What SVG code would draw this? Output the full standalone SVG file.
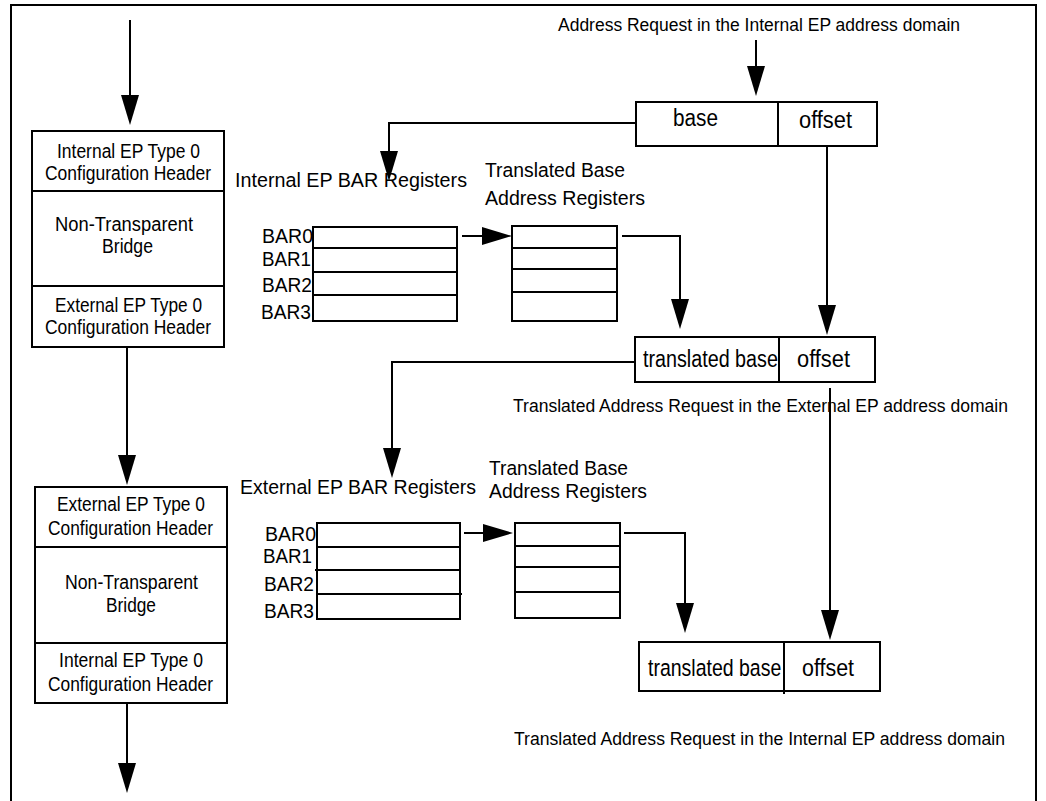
<svg xmlns="http://www.w3.org/2000/svg" width="1046" height="801" viewBox="0 0 1046 801">
<style>
  .ln{fill:none;stroke:#000;stroke-width:2}
  .bx{fill:#fff;stroke:#000;stroke-width:2}
  text{font-family:"Liberation Sans",Arial,sans-serif;fill:#000}
  .bt{font-size:19.5px;text-anchor:middle}
  .lb{font-size:20.5px}
  .bar{font-size:20.5px;text-anchor:end}
  .cap{font-size:17.5px}
  .fld{font-size:23.5px}
  .con{fill:none;stroke:#000;stroke-width:2;marker-end:url(#ah)}
</style>
<defs>
  <marker id="ah" markerUnits="userSpaceOnUse" markerWidth="31" markerHeight="18" refX="4" refY="9" orient="auto">
    <path d="M0,0 L30,9 L0,18 Z" fill="#000"/>
  </marker>
</defs>
<rect width="1046" height="801" fill="#fff"/>
<path id="frame" class="ln" d="M11,801 V5 H1036 V801"/>

<g id="ntb-upper">
  <rect class="bx" x="32" y="131" width="192" height="216"/>
  <line class="ln" x1="32" y1="191" x2="224" y2="191"/>
  <line class="ln" x1="32" y1="286" x2="224" y2="286"/>
  <text class="bt" x="128.5" y="158" textLength="143" lengthAdjust="spacingAndGlyphs">Internal EP Type 0</text>
  <text class="bt" x="128" y="180" textLength="166" lengthAdjust="spacingAndGlyphs">Configuration Header</text>
  <text class="bt" x="124" y="231" textLength="138" lengthAdjust="spacingAndGlyphs">Non-Transparent</text>
  <text class="bt" x="127.5" y="253" textLength="51" lengthAdjust="spacingAndGlyphs">Bridge</text>
  <text class="bt" x="128.5" y="312" textLength="147" lengthAdjust="spacingAndGlyphs">External EP Type 0</text>
  <text class="bt" x="128" y="334" textLength="166" lengthAdjust="spacingAndGlyphs">Configuration Header</text>
</g>

<g id="ntb-lower">
  <rect class="bx" x="35" y="487" width="192" height="216"/>
  <line class="ln" x1="35" y1="547" x2="227" y2="547"/>
  <line class="ln" x1="35" y1="643" x2="227" y2="643"/>
  <text class="bt" x="131" y="511" textLength="148" lengthAdjust="spacingAndGlyphs">External EP Type 0</text>
  <text class="bt" x="130.5" y="535" textLength="165" lengthAdjust="spacingAndGlyphs">Configuration Header</text>
  <text class="bt" x="131.5" y="589" textLength="133" lengthAdjust="spacingAndGlyphs">Non-Transparent</text>
  <text class="bt" x="131" y="612" textLength="50" lengthAdjust="spacingAndGlyphs">Bridge</text>
  <text class="bt" x="131" y="667" textLength="144" lengthAdjust="spacingAndGlyphs">Internal EP Type 0</text>
  <text class="bt" x="130.5" y="691" textLength="165" lengthAdjust="spacingAndGlyphs">Configuration Header</text>
</g>

<g id="addr-in">
  <text class="cap" x="558" y="31" textLength="402" lengthAdjust="spacingAndGlyphs">Address Request in the Internal EP address domain</text>
  <rect class="bx" x="636" y="102" width="241" height="44"/>
  <line class="ln" x1="778" y1="102" x2="778" y2="146"/>
  <text class="fld" x="673" y="126" textLength="45" lengthAdjust="spacingAndGlyphs">base</text>
  <text class="fld" x="799" y="128" textLength="53" lengthAdjust="spacingAndGlyphs">offset</text>
</g>

<g id="int-bar">
  <text class="lb" x="235" y="187" textLength="232" lengthAdjust="spacingAndGlyphs">Internal EP BAR Registers</text>
  <rect class="bx" x="313" y="227" width="144" height="94"/>
  <line class="ln" x1="313" y1="248" x2="457" y2="248"/>
  <line class="ln" x1="313" y1="272" x2="457" y2="272"/>
  <line class="ln" x1="313" y1="295" x2="457" y2="295"/>
  <text class="bar" x="313" y="243" textLength="51" lengthAdjust="spacingAndGlyphs">BAR0</text>
  <text class="bar" x="311" y="266" textLength="49" lengthAdjust="spacingAndGlyphs">BAR1</text>
  <text class="bar" x="312" y="292" textLength="50" lengthAdjust="spacingAndGlyphs">BAR2</text>
  <text class="bar" x="311" y="319" textLength="50" lengthAdjust="spacingAndGlyphs">BAR3</text>
</g>

<g id="int-tbar">
  <text class="lb" x="485" y="177" textLength="140" lengthAdjust="spacingAndGlyphs">Translated Base</text>
  <text class="lb" x="485" y="205" textLength="160" lengthAdjust="spacingAndGlyphs">Address Registers</text>
  <rect class="bx" x="512" y="226" width="105" height="95"/>
  <line class="ln" x1="512" y1="248" x2="617" y2="248"/>
  <line class="ln" x1="512" y1="269" x2="617" y2="269"/>
  <line class="ln" x1="512" y1="292" x2="617" y2="292"/>
</g>

<g id="addr-ext">
  <rect class="bx" x="635" y="337" width="240" height="45"/>
  <line class="ln" x1="779" y1="337" x2="779" y2="382"/>
  <text class="fld" transform="translate(643 367) scale(0.84 1)" x="0" y="0">translated base</text>
  <text class="fld" x="797" y="367" textLength="53" lengthAdjust="spacingAndGlyphs">offset</text>
  <text class="cap" x="513" y="412" textLength="495" lengthAdjust="spacingAndGlyphs">Translated Address Request in the External EP address domain</text>
</g>

<g id="ext-bar">
  <text class="lb" x="240" y="494" textLength="236" lengthAdjust="spacingAndGlyphs">External EP BAR Registers</text>
  <rect class="bx" x="317" y="523" width="143" height="96"/>
  <line class="ln" x1="317" y1="547" x2="460" y2="547"/>
  <line class="ln" x1="315" y1="570" x2="460" y2="570"/>
  <line class="ln" x1="317" y1="594" x2="462" y2="594"/>
  <text class="bar" x="316" y="541" textLength="51" lengthAdjust="spacingAndGlyphs">BAR0</text>
  <text class="bar" x="312" y="563" textLength="49" lengthAdjust="spacingAndGlyphs">BAR1</text>
  <text class="bar" x="314" y="591" textLength="50" lengthAdjust="spacingAndGlyphs">BAR2</text>
  <text class="bar" x="314" y="618" textLength="50" lengthAdjust="spacingAndGlyphs">BAR3</text>
</g>

<g id="ext-tbar">
  <text class="lb" x="489" y="475" textLength="139" lengthAdjust="spacingAndGlyphs">Translated Base</text>
  <text class="lb" x="489" y="498" textLength="158" lengthAdjust="spacingAndGlyphs">Address Registers</text>
  <rect class="bx" x="515" y="523" width="105" height="95"/>
  <line class="ln" x1="515" y1="546" x2="620" y2="546"/>
  <line class="ln" x1="515" y1="567" x2="620" y2="567"/>
  <line class="ln" x1="515" y1="592" x2="620" y2="592"/>
</g>

<g id="addr-out">
  <rect class="bx" x="639" y="642" width="241" height="49"/>
  <line class="ln" x1="784" y1="642" x2="784" y2="694"/>
  <text class="fld" transform="translate(648 676) scale(0.83 1)" x="0" y="0">translated base</text>
  <text class="fld" x="802" y="676" textLength="52" lengthAdjust="spacingAndGlyphs">offset</text>
  <text class="cap" x="514" y="745" textLength="491" lengthAdjust="spacingAndGlyphs">Translated Address Request in the Internal EP address domain</text>
</g>

<g id="connectors">
  <path class="con" d="M130,20 V99"/>
  <path class="con" d="M127,347 V459"/>
  <path class="con" d="M127,703 V767"/>
  <path class="con" d="M756,40 V70"/>
  <path class="con" d="M636,123 H389 V155"/>
  <path class="con" d="M827,146 V309"/>
  <path class="con" d="M462,236 H486"/>
  <path class="con" d="M622,236 H680 V303"/>
  <path class="con" d="M635,362 H392 V452"/>
  <path class="con" d="M830,388 V614"/>
  <path class="con" d="M464,533 H487"/>
  <path class="con" d="M624,533 H685 V607"/>
</g>
</svg>
